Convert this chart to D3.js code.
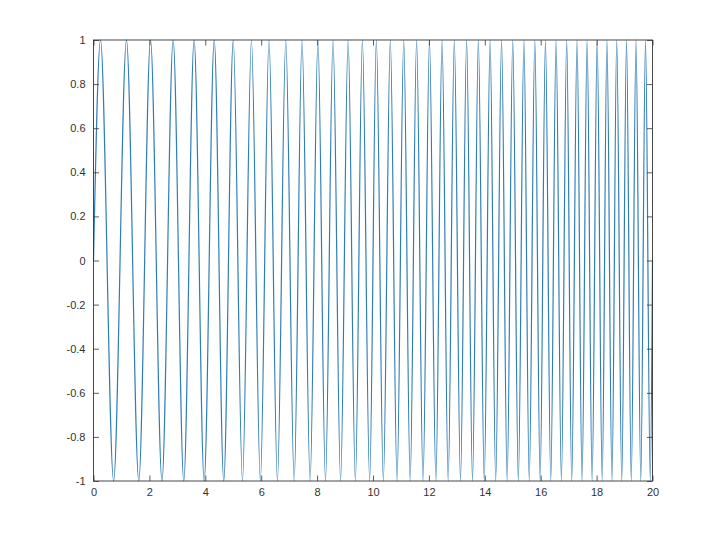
<!DOCTYPE html>
<html>
<head>
<meta charset="utf-8">
<script src="https://cdn.jsdelivr.net/npm/d3@7"></script>
<style>
  body { margin: 0; background: #fff; }
  svg { display: block; }
  .tick text { font-family: "Liberation Sans", Arial, sans-serif; font-size: 11px; fill: #333; }
</style>
</head>
<body>
<svg></svg>
<script>
// values (x in data units)
var startPoint = [0, 0],
    endPoint = [20, 0];
var peakX = [0.25, 1.18, 2.04, 2.85, 3.60, 4.32, 5.00, 5.65, 6.28, 6.88,
             7.46, 8.03, 8.57, 9.11, 9.62, 10.12, 10.62, 11.10, 11.56, 12.02,
             12.47, 12.91, 13.35, 13.77, 14.19, 14.60, 15.00, 15.40, 15.79, 16.17,
             16.55, 16.93, 17.30, 17.66, 18.02, 18.37, 18.72, 19.07, 19.41, 19.75];
var troughX = [0.72, 1.62, 2.45, 3.23, 3.96, 4.66, 5.33, 5.97, 6.58, 7.18,
               7.75, 8.30, 8.84, 9.37, 9.88, 10.37, 10.86, 11.33, 11.79, 12.25,
               12.69, 13.13, 13.56, 13.98, 14.39, 14.80, 15.20, 15.59, 15.98, 16.36,
               16.74, 17.11, 17.48, 17.84, 18.20, 18.55, 18.90, 19.24, 19.58, 19.92];
var peakY = 1, troughY = -1;
var xTicks = [0, 2, 4, 6, 8, 10, 12, 14, 16, 18, 20];
var yTicks = [-1, -0.8, -0.6, -0.4, -0.2, 0, 0.2, 0.4, 0.6, 0.8, 1];

var W = 720, H = 539,
    padL = 93.5, padR = 652.5, padT = 40, padB = 481;
var svg = d3.select('svg').attr('width', W).attr('height', H);

var sx = d3.scaleLinear().domain([0, 20]).range([padL, padR]),
    sy = d3.scaleLinear().domain([-1, 1]).range([padB, padT]);

// peaks and troughs alternate
var points = [startPoint];
peakX.forEach(function(p, i) {
  points.push([p, peakY]);
  points.push([troughX[i], troughY]);
});
points.push(endPoint);

var line = d3.line()
  .x(function(d) { return sx(d[0]); })
  .y(function(d) { return sy(d[1]); })
  .curve(d3.curveMonotoneX);

svg.append('path')
  .datum(points)
  .attr('fill', 'none')
  .attr('stroke', '#2f7db5')
  .attr('stroke-width', 1.2)
  .attr('d', line);

var tk = 5.5;
var fmt = function(d) { return String(+d.toFixed(1)); };

function styleAxis(g) {
  g.select('.domain').remove();
  g.selectAll('.tick line').attr('stroke', '#333').attr('stroke-width', 0.8);
}

svg.append('g').attr('transform', 'translate(0,' + padB + ')')
  .call(d3.axisBottom(sx).tickValues(xTicks).tickSizeInner(-tk).tickPadding(7).tickFormat(fmt))
  .call(styleAxis);
svg.append('g').attr('transform', 'translate(0,' + padT + ')')
  .call(d3.axisTop(sx).tickValues(xTicks).tickSizeInner(-tk).tickFormat(''))
  .call(styleAxis);
svg.append('g').attr('transform', 'translate(' + padL + ',0)')
  .call(d3.axisLeft(sy).tickValues(yTicks).tickSizeInner(-tk).tickPadding(8).tickFormat(fmt))
  .call(styleAxis);
svg.append('g').attr('transform', 'translate(' + padR + ',0)')
  .call(d3.axisRight(sy).tickValues(yTicks).tickSizeInner(-tk).tickFormat(''))
  .call(styleAxis);

svg.append('rect')
  .attr('x', padL).attr('y', padT)
  .attr('width', padR - padL).attr('height', padB - padT)
  .attr('fill', 'none').attr('stroke', '#333').attr('stroke-width', 0.9);
</script>
</body>
</html>
